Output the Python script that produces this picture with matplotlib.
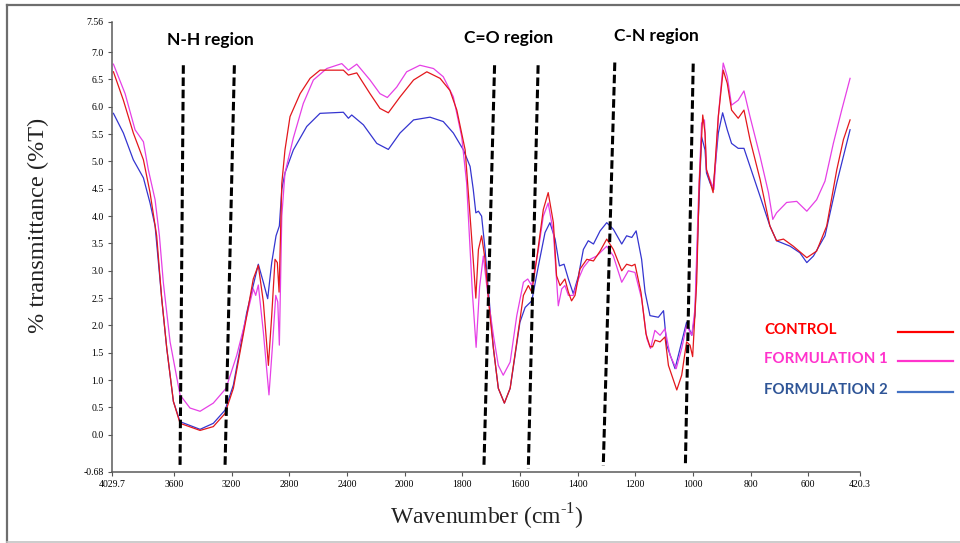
import numpy as np
import matplotlib
matplotlib.use("Agg")
import matplotlib.pyplot as plt
from matplotlib.lines import Line2D

# FTIR spectra (wavenumber in cm-1, %T)
control_wn = [4020, 3951, 3882, 3812, 3766, 3720, 3685, 3650, 3604, 3558, 3419, 3327, 3246,
              3188, 3095, 3050, 3015, 2980, 2945, 2922, 2899, 2883, 2871, 2852, 2830, 2795,
              2725, 2656, 2587, 2425, 2390, 2332, 2240, 2171, 2113, 2032, 1969, 1923, 1877,
              1843, 1819, 1790, 1773, 1762, 1753, 1744, 1733, 1721, 1704, 1692, 1675, 1654,
              1634, 1611, 1588, 1571, 1559, 1542, 1519, 1502, 1484, 1473, 1461, 1444, 1432,
              1421, 1409, 1392, 1368, 1345, 1322, 1299, 1276, 1247, 1230, 1212, 1201, 1180,
              1163, 1149, 1140, 1131, 1114, 1097, 1085, 1056, 1039, 1022, 1010, 1001, 987,
              978, 966, 958, 953, 941, 930, 912, 895, 881, 866, 843, 823, 802, 767, 733, 710,
              686, 652, 605, 571, 536, 501, 478, 455]
control_t = [6.64, 6.12, 5.52, 5.03, 4.43, 3.64, 2.49, 1.58, 0.61, 0.21, 0.08, 0.15, 0.39,
             0.85, 2.18, 2.85, 3.10, 2.43, 1.27, 2.18, 3.21, 3.15, 2.61, 4.60, 5.21, 5.82,
             6.24, 6.52, 6.67, 6.67, 6.58, 6.62, 6.24, 5.97, 5.89, 6.18, 6.49, 6.64, 6.52,
             6.30, 5.94, 5.21, 4.00, 3.20, 2.50, 3.39, 3.64, 3.21, 2.18, 1.58, 0.85, 0.58,
             0.85, 1.70, 2.55, 2.73, 2.61, 3.21, 4.12, 4.43, 3.88, 2.91, 2.73, 2.85, 2.61,
             2.45, 2.55, 3.03, 3.21, 3.18, 3.36, 3.58, 3.39, 3.00, 3.12, 3.09, 3.12, 2.60,
             1.85, 1.61, 1.61, 1.73, 1.70, 1.79, 1.27, 0.82, 1.09, 1.70, 1.64, 1.43, 2.79,
             4.61, 5.85, 5.52, 4.85, 4.64, 4.43, 5.82, 6.67, 6.43, 5.94, 5.79, 5.94, 5.40,
             4.67, 3.82, 3.55, 3.58, 3.45, 3.24, 3.36, 3.82, 4.85, 5.40, 5.76]

form1_wn = [4020, 3939, 3870, 3812, 3778, 3731, 3701, 3674, 3627, 3558, 3489, 3419, 3327,
            3239, 3165, 3095, 3050, 3033, 3015, 2980, 2941, 2918, 2894, 2880, 2869, 2852,
            2830, 2772, 2703, 2633, 2540, 2436, 2390, 2332, 2240, 2171, 2120, 2055, 1993,
            1947, 1900, 1866, 1831, 1802, 1785, 1773, 1765, 1752, 1740, 1727, 1710, 1692,
            1675, 1658, 1634, 1611, 1588, 1573, 1559, 1536, 1519, 1502, 1484, 1467, 1455,
            1444, 1432, 1415, 1397, 1380, 1357, 1334, 1299, 1276, 1247, 1224, 1201, 1178,
            1160, 1147, 1132, 1114, 1097, 1079, 1058, 1039, 1022, 1004, 993, 981, 970, 960,
            953, 941, 927, 912, 895, 881, 866, 843, 823, 802, 767, 738, 723, 710, 675, 640,
            605, 571, 542, 513, 484, 455]
form1_t = [6.78, 6.24, 5.58, 5.36, 4.85, 4.30, 3.64, 2.79, 1.70, 0.73, 0.49, 0.43, 0.58,
           0.85, 1.45, 2.18, 2.67, 2.55, 2.74, 1.88, 0.73, 1.58, 2.55, 2.43, 1.64, 4.00,
           4.79, 5.43, 6.06, 6.49, 6.70, 6.79, 6.67, 6.78, 6.49, 6.24, 6.17, 6.36, 6.64,
           6.76, 6.70, 6.55, 6.18, 5.45, 4.61, 3.40, 2.60, 1.60, 2.70, 3.27, 2.49, 1.82,
           1.27, 1.09, 1.33, 2.18, 2.79, 2.85, 2.73, 3.39, 4.00, 4.24, 3.70, 2.36, 2.67,
           2.73, 2.55, 2.55, 2.85, 3.06, 3.21, 3.27, 3.45, 3.27, 2.79, 3.00, 2.97, 2.49,
           1.76, 1.58, 1.91, 1.82, 1.94, 1.45, 1.21, 1.58, 2.00, 1.82, 2.30, 4.30, 5.70,
           5.76, 4.85, 4.67, 4.49, 5.82, 6.80, 6.55, 6.03, 6.12, 6.29, 5.82, 5.09, 4.43,
           3.94, 4.06, 4.25, 4.27, 4.09, 4.30, 4.64, 5.33, 5.94, 6.52]

form2_wn = [4020, 3951, 3882, 3812, 3766, 3731, 3685, 3650, 3604, 3558, 3419, 3327, 3246,
            3188, 3095, 3015, 2980, 2950, 2922, 2892, 2869, 2852, 2830, 2772, 2679, 2587,
            2425, 2390, 2367, 2286, 2193, 2113, 2032, 1969, 1912, 1866, 1831, 1796, 1773,
            1762, 1753, 1744, 1733, 1721, 1704, 1692, 1675, 1654, 1634, 1617, 1600, 1582,
            1559, 1536, 1513, 1496, 1478, 1463, 1447, 1432, 1415, 1397, 1380, 1363, 1345,
            1322, 1299, 1276, 1247, 1230, 1212, 1197, 1178, 1166, 1149, 1120, 1102, 1091,
            1062, 1039, 1022, 1004, 993, 981, 970, 958, 953, 941, 930, 912, 897, 881, 866,
            843, 823, 802, 767, 733, 710, 663, 629, 605, 582, 542, 501, 455]
form2_t = [5.88, 5.52, 5.03, 4.70, 4.24, 3.82, 2.49, 1.58, 0.61, 0.24, 0.10, 0.21, 0.45,
           0.91, 2.24, 3.12, 2.79, 2.49, 3.15, 3.64, 3.82, 4.49, 4.79, 5.21, 5.64, 5.88,
           5.90, 5.79, 5.85, 5.67, 5.33, 5.22, 5.52, 5.76, 5.81, 5.73, 5.52, 5.21, 4.91,
           4.49, 4.06, 4.09, 4.00, 3.39, 2.30, 1.58, 0.85, 0.58, 0.85, 1.45, 2.06, 2.33,
           2.45, 3.09, 3.70, 3.88, 3.58, 3.09, 3.12, 2.85, 2.58, 2.91, 3.39, 3.55, 3.49,
           3.73, 3.88, 3.76, 3.49, 3.64, 3.61, 3.73, 3.21, 2.61, 2.18, 2.15, 2.27, 1.64,
           1.21, 1.70, 2.06, 1.82, 2.18, 4.00, 5.45, 5.21, 4.79, 4.61, 4.49, 5.52, 5.89,
           5.58, 5.33, 5.24, 5.24, 4.91, 4.36, 3.82, 3.55, 3.45, 3.33, 3.15, 3.27, 3.64,
           4.61, 5.58]

# dashed guide lines bounding each region: (top wn, top %T, bottom wn, bottom %T)
guides = [(3535, 6.76, 3558, -0.60), (3181, 6.76, 3246, -0.60),
          (1688, 6.76, 1725, -0.60), (1537, 6.76, 1571, -0.62),
          (1271, 6.81, 1311, -0.57), (999, 6.79, 1026, -0.52)]
regions = [("N-H region", 3350, 7.23), ("C=O region", 1638, 7.25), ("C-N region", 1128, 7.30)]

xticks = [4029.7, 3600, 3200, 2800, 2400, 2000, 1800, 1600, 1400, 1200, 1000, 800, 600, 420.3]
xlabels = ["4029.7", "3600", "3200", "2800", "2400", "2000", "1800", "1600", "1400", "1200",
           "1000", "800", "600", "420.3"]
yticks = [7.56, 7.0, 6.5, 6.0, 5.5, 5.0, 4.5, 4.0, 3.5, 3.0, 2.5, 2.0, 1.5, 1.0, 0.5, 0.0, -0.68]
ylabels = ["7.56", "7.0", "6.5", "6.0", "5.5", "5.0", "4.5", "4.0", "3.5", "3.0", "2.5",
           "2.0", "1.5", "1.0", "0.5", "0.0", "-0.68"]


def fwd(w):
    # spectrometer scale: 2x expansion below 2000 cm-1
    w = np.asarray(w, dtype=float)
    return np.where(w >= 2000, w, 2 * w - 2000)


def inv(t):
    t = np.asarray(t, dtype=float)
    return np.where(t >= 2000, t, (t + 2000) / 2)


plt.rcParams["font.family"] = "Liberation Serif"
plt.rcParams["mathtext.fontset"] = "custom"
plt.rcParams["mathtext.rm"] = "Liberation Serif"

fig = plt.figure(figsize=(9.6, 5.43), dpi=100)
ax = fig.add_axes([0.1167, 0.1308, 0.7792, 0.8296])
ax.set_xscale("function", functions=(fwd, inv))

ax.plot(form2_wn, form2_t, color="#3535d0", lw=0.9)
ax.plot(form1_wn, form1_t, color="#e640e6", lw=0.9)
ax.plot(control_wn, control_t, color="#e3171c", lw=0.9)

for w0, y0, w1, y1 in guides:
    ax.plot([w0, w1], [y0, y1], color="black", lw=2.2, dashes=(2.8, 1.2))
for label, wx, yy in regions:
    ax.text(wx, yy, label, ha="center", va="center", fontsize=12.5,
            family="Lato", weight="bold", color="black")

ax.set_xlim(4029.7, 420.3)
ax.set_ylim(-0.68, 7.56)
ax.set_xticks(xticks)
ax.set_xticklabels(xlabels, fontsize=7)
ax.set_yticks(yticks)
ax.set_yticklabels(ylabels, fontsize=7)
ax.tick_params(length=3, width=0.8, color="#555555", pad=3)
for side in ("top", "right"):
    ax.spines[side].set_visible(False)
for side in ("left", "bottom"):
    ax.spines[side].set_color("#5a5a5a")
    ax.spines[side].set_linewidth(1.1)

fig.text(487 / 960, 1 - 517 / 543, r"Wavenumber (cm$^{\text{-1}}$)", ha="center",
         va="center", fontsize=17, color="#222222")
fig.text(38 / 960, 1 - 225 / 543, "% transmittance (%T)", ha="center", va="center",
         rotation=90, fontsize=17.5, color="#222222")

# hand-made legend
legend = [("CONTROL", "#ff0000", "#ff0000", 330), ("FORMULATION 1", "#ff33cc", "#ff33cc", 359),
          ("FORMULATION 2", "#2f5597", "#4472c4", 390)]
for name, tcol, lcol, ypx in legend:
    fig.text(764 / 960, 1 - ypx / 543, name, ha="left", va="center", fontsize=10.8,
             family="Lato", weight="bold", color=tcol)
    fig.add_artist(Line2D([898 / 960, 953 / 960], [1 - (ypx + 1.5) / 543] * 2,
                          color=lcol, lw=1.6))

# frame around the picture
fig.add_artist(Line2D([7 / 960, 1], [1 - 4.5 / 543] * 2, color="#6e6e6e", lw=1.6))
fig.add_artist(Line2D([7 / 960] * 2, [1 - 4.5 / 543, 1 - 541.5 / 543], color="#6e6e6e", lw=1.6))
fig.add_artist(Line2D([7 / 960, 1], [1 - 541.5 / 543] * 2, color="#c4c4c4", lw=1.2))

fig.savefig("out.png", dpi=100)
